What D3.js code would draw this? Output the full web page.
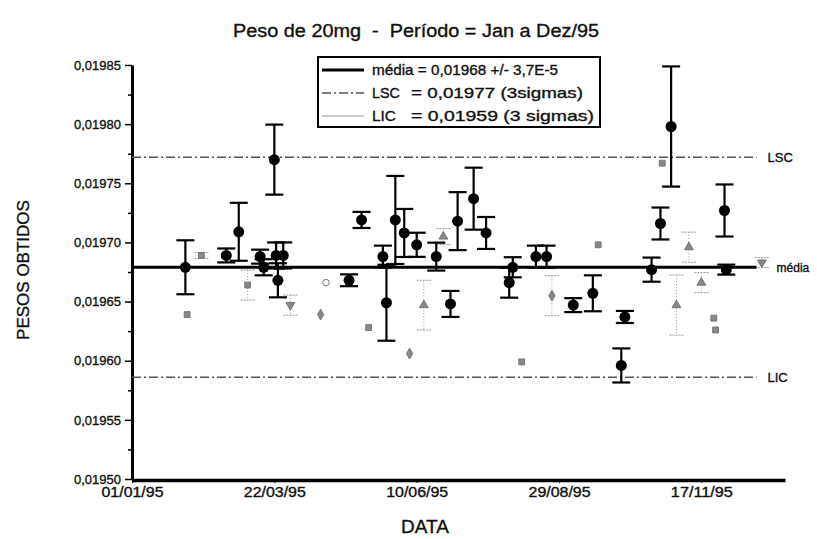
<!DOCTYPE html>
<html>
<head>
<meta charset="utf-8">
<script src="https://cdn.jsdelivr.net/npm/d3@7"></script>
<style>
body { margin: 0; background: #fff; }
svg text { font-family: "Liberation Sans", Arial, sans-serif; fill: #111; stroke: #111; stroke-width: 0.35px; }
</style>
</head>
<body>
<div id="grafico"></div>
<script>
// serie principal (medias com barras de erro)
const mainDates = ['31/01/95', '23/02/95', '02/03/95', '14/03/95', '16/03/95', '22/03/95', '23/03/95',
    '27/03/95', '24/03/95', '03/05/95', '10/05/95', '22/05/95', '24/05/95', '29/05/95', '03/06/95',
    '10/06/95', '21/06/95', '29/06/95', '03/07/95', '12/07/95', '19/07/95', '03/08/95', '01/08/95',
    '16/08/95', '22/08/95', '06/09/95', '17/09/95', '05/10/95', '03/10/95', '20/10/95', '25/10/95',
    '31/10/95', '30/11/95', '01/12/95'];
const mainValues = [0.019679, 0.019689, 0.019709, 0.019688, 0.019679, 0.019770, 0.019689,
    0.019689, 0.019668, 0.019668, 0.019719, 0.019688, 0.019649, 0.019719, 0.019708,
    0.019698, 0.019688, 0.019648, 0.019718, 0.019737, 0.019708, 0.019679, 0.019666,
    0.019688, 0.019688, 0.019647, 0.019657, 0.019637, 0.019596, 0.019677, 0.019716,
    0.019798, 0.019727, 0.019677];
const mainErrors = [2.28e-5, 0.59e-5, 2.45e-5, 0.59e-5, 0.68e-5, 2.96e-5, 1.1e-5,
    1.1e-5, 1.44e-5, 0.5e-5, 0.68e-5, 0.93e-5, 3.21e-5, 3.72e-5, 2.03e-5,
    1.02e-5, 1.18e-5, 1.1e-5, 2.45e-5, 2.62e-5, 1.35e-5, 0.85e-5, 1.27e-5,
    0.93e-5, 0.93e-5, 0.59e-5, 1.52e-5, 0.51e-5, 1.44e-5, 1.02e-5, 1.35e-5,
    5.08e-5, 2.2e-5, 0.42e-5];

// serie auxiliar (marcas cinzentas, barras pontilhadas)
const auxDates = ['09/02/95', '01/02/95', '07/03/95', '31/03/95', '17/04/95', '20/04/95', '14/05/95',
    '14/06/95', '06/06/95', '25/06/95', '08/08/95', '25/08/95', '20/09/95', '26/10/95',
    '10/11/95', '03/11/95', '17/11/95', '24/11/95', '25/11/95', '21/12/95'];
const auxValues = [0.019689, 0.019639, 0.019664, 0.019647, 0.019639, 0.019666, 0.019628,
    0.019647, 0.019606, 0.019705, 0.019599, 0.019655, 0.019698, 0.019767,
    0.019696, 0.019647, 0.019666, 0.019636, 0.019626, 0.019683];
const auxErrors = [0.25e-5, 0, 1.27e-5, 0.85e-5, 0, 0, 0,
    2.1e-5, 0, 0.68e-5, 0, 1.69e-5, 0, 0,
    1.27e-5, 2.54e-5, 0.85e-5, 0, 0, 0.42e-5];
const auxSymbols = ['square', 'square', 'square', 'tridown', 'diamond', 'circle', 'square',
    'triangle', 'diamond', 'triangle', 'square', 'diamond', 'square', 'square',
    'triangle', 'triangle', 'triangle', 'square', 'square', 'tridown'];

// limites de controle
const media = 0.019679;
const lsc = 0.019772;
const lic = 0.019586;
const limitEnd = '18/12/95';

const yTicks = [0.01950, 0.01955, 0.01960, 0.01965, 0.01970, 0.01975, 0.01980, 0.01985];
const xTickLabels = ['01/01/95', '22/03/95', '10/06/95', '29/08/95', '17/11/95'];

const legendLabels = ['média = 0,01968 +/- 3,7E-5', 'LSC', 'LIC'];
const legendValues = ['', '= 0,01977 (3sigmas)', '= 0,01959 (3 sigmas)'];

const parseDate = d3.timeParse('%d/%m/%y');

const width = 817;
const height = 539;

const svg = d3.select('#grafico')
    .append('svg')
    .attr('width', width)
    .attr('height', height);

const x = d3.scaleTime()
    .domain([parseDate('01/01/95'), parseDate('03/01/96')])
    .range([132, 785]);

const y = d3.scaleLinear()
    .domain([0.01950, 0.01985])
    .range([479, 65]);

const fmt = (v) => d3.format('.5f')(v).replace('.', ',');

// eixo y
const yAxis = d3.axisLeft(y)
    .tickValues(yTicks)
    .tickFormat(fmt)
    .tickSize(7)
    .tickSizeOuter(0)
    .tickPadding(4);
const gy = svg.append('g')
    .attr('transform', `translate(${132}, 0)`)
    .call(yAxis);
gy.select('.domain').attr('stroke-width', 3);
gy.selectAll('.tick line').attr('stroke-width', 1.5);
gy.selectAll('.tick text')
    .style('font-size', '13px')
    .attr('fill', '#111');

const minorY = d3.range(0, yTicks.length - 1).map((i) => (yTicks[i] + yTicks[i + 1]) / 2);
svg.append('g')
    .attr('transform', `translate(${132}, 0)`)
    .call(d3.axisLeft(y).tickValues(minorY).tickFormat('').tickSize(4).tickSizeOuter(0))
    .call((g) => g.select('.domain').remove())
    .selectAll('line').attr('stroke-width', 1.5);

// eixo x
const xAxis = d3.axisBottom(x)
    .tickValues(xTickLabels.map(parseDate))
    .tickFormat(d3.timeFormat('%d/%m/%y'))
    .tickSize(3)
    .tickSizeOuter(0)
    .tickPadding(4);
const gx = svg.append('g')
    .attr('transform', `translate(0, ${480})`)
    .call(xAxis);
gx.select('.domain').attr('stroke-width', 3.5);
gx.selectAll('.tick text')
    .style('font-size', '14px')
    .attr('textLength', 62)
    .attr('lengthAdjust', 'spacingAndGlyphs')
    .attr('fill', '#111');

// linhas de limite
const x0 = x.range()[0];
const x1 = x(parseDate(limitEnd));
svg.append('line')
    .attr('x1', x0).attr('x2', x1)
    .attr('y1', y(lsc)).attr('y2', y(lsc))
    .attr('stroke', '#555')
    .attr('stroke-width', 1.5)
    .attr('stroke-dasharray', '9,3,2,3');
svg.append('line')
    .attr('x1', x0).attr('x2', x1)
    .attr('y1', y(lic)).attr('y2', y(lic))
    .attr('stroke', '#555')
    .attr('stroke-width', 1.5)
    .attr('stroke-dasharray', '9,3,2,3');

// serie auxiliar
const aux = auxDates.map((d, i) => ({
    date: parseDate(d), value: auxValues[i], err: auxErrors[i], sym: auxSymbols[i]
}));
const symbolTypes = {
    square: d3.symbolSquare,
    diamond: d3.symbolDiamond,
    triangle: d3.symbolTriangle,
    tridown: d3.symbolTriangle,
    circle: d3.symbolCircle
};
const gAux = svg.append('g').attr('class', 'aux');
aux.filter((d) => d.err > 0).forEach((d) => {
    const cx = x(d.date);
    gAux.append('line')
        .attr('x1', cx).attr('x2', cx)
        .attr('y1', y(d.value + d.err)).attr('y2', y(d.value - d.err))
        .attr('stroke', '#999').attr('stroke-dasharray', '1,2');
    [d.value + d.err, d.value - d.err].forEach((v) => {
        gAux.append('line')
            .attr('x1', cx - 7).attr('x2', cx + 7)
            .attr('y1', y(v)).attr('y2', y(v))
            .attr('stroke', '#999').attr('stroke-dasharray', '2,1');
    });
});
gAux.selectAll('path')
    .data(aux)
    .enter()
    .append('path')
    .attr('transform', (d) => `translate(${x(d.date)}, ${y(d.value)})${d.sym === 'tridown' ? ' rotate(180)' : ''}`)
    .attr('d', (d) => d3.symbol().type(symbolTypes[d.sym]).size(34)())
    .attr('fill', (d) => d.sym === 'circle' ? '#fff' : '#888')
    .attr('stroke', '#777')
    .attr('stroke-width', 1);

// media
svg.append('line')
    .attr('x1', x0).attr('x2', x1)
    .attr('y1', y(media)).attr('y2', y(media))
    .attr('stroke', '#000')
    .attr('stroke-width', 3);

// serie principal
const pontos = mainDates.map((d, i) => ({ date: parseDate(d), value: mainValues[i], err: mainErrors[i] }));
const gMain = svg.append('g').attr('class', 'main');
pontos.forEach((d) => {
    const cx = x(d.date);
    gMain.append('line')
        .attr('x1', cx).attr('x2', cx)
        .attr('y1', y(d.value + d.err)).attr('y2', y(d.value - d.err))
        .attr('stroke', '#000').attr('stroke-width', 2.2);
    [d.value + d.err, d.value - d.err].forEach((v) => {
        gMain.append('line')
            .attr('x1', cx - 9).attr('x2', cx + 9)
            .attr('y1', y(v)).attr('y2', y(v))
            .attr('stroke', '#000').attr('stroke-width', 2.2);
    });
});
gMain.selectAll('circle')
    .data(pontos)
    .enter()
    .append('circle')
    .attr('cx', (d) => x(d.date))
    .attr('cy', (d) => y(d.value))
    .attr('r', 5.5)
    .attr('fill', '#000');

// rotulos a direita
svg.append('text').text('LSC').attr('x', x1 + 11).attr('y', y(lsc) + 5).style('font-size', '13px');
svg.append('text').text('média').attr('x', x1 + 20).attr('y', y(media) + 5).style('font-size', '12px');
svg.append('text').text('LIC').attr('x', x1 + 11).attr('y', y(lic) + 5).style('font-size', '13px');

// titulo
svg.append('text')
    .text('Peso de 20mg  -  Período = Jan a Dez/95')
    .attr('x', 416)
    .attr('y', 37)
    .attr('text-anchor', 'middle')
    .attr('textLength', 366)
    .attr('lengthAdjust', 'spacingAndGlyphs')
    .style('font-size', '18px')
    .style('white-space', 'pre');

// rotulos dos eixos
svg.append('text')
    .text('DATA')
    .attr('x', 425)
    .attr('y', 533)
    .attr('text-anchor', 'middle')
    .style('font-size', '19px');
svg.append('text')
    .text('PESOS OBTIDOS')
    .attr('transform', `translate(${29}, ${270}) rotate(-90)`)
    .attr('text-anchor', 'middle')
    .style('font-size', '17px');

// legenda
const legend = svg.append('g').attr('class', 'legend');
legend.append('rect')
    .attr('x', 318).attr('y', 57)
    .attr('width', 282).attr('height', 70)
    .attr('fill', '#fff')
    .attr('stroke', '#000')
    .attr('stroke-width', 2);
const legendStyles = [
    { stroke: '#000', w: 3, dash: null },
    { stroke: '#555', w: 1.5, dash: '9,3,2,3' },
    { stroke: '#bbb', w: 1.5, dash: null }
];
const labelWidths = [186, 28, 24];
const valueWidths = [0, 172, 183];
legendLabels.forEach((label, i) => {
    const posy = 70 + i * 23;
    legend.append('line')
        .attr('x1', 322).attr('x2', 364)
        .attr('y1', posy).attr('y2', posy)
        .attr('stroke', legendStyles[i].stroke)
        .attr('stroke-width', legendStyles[i].w)
        .attr('stroke-dasharray', legendStyles[i].dash);
    legend.append('text')
        .text(label)
        .attr('x', 372).attr('y', posy + 5)
        .attr('textLength', labelWidths[i])
        .attr('lengthAdjust', 'spacingAndGlyphs')
        .style('font-size', '15px');
    if (legendValues[i]) {
        legend.append('text')
            .text(legendValues[i])
            .attr('x', 411).attr('y', posy + 5)
            .attr('textLength', valueWidths[i])
            .attr('lengthAdjust', 'spacingAndGlyphs')
            .style('font-size', '15px');
    }
});
</script>
</body>
</html>
